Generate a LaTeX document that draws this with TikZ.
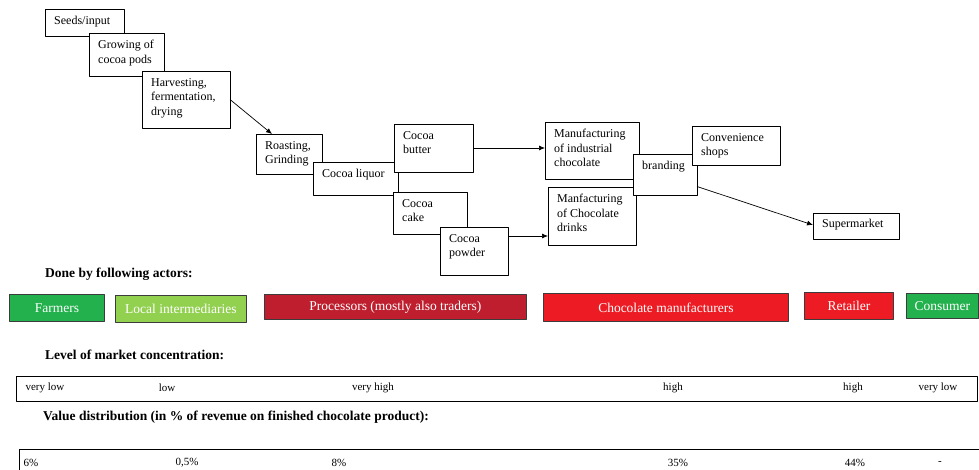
\documentclass[tikz,border=0pt]{standalone}
\usepackage{fontspec}
\setmainfont{Liberation Serif}
\usetikzlibrary{arrows.meta}

\definecolor{farmgreen}{RGB}{34,177,76}
\definecolor{leafgreen}{RGB}{146,208,80}
\definecolor{procred}{RGB}{190,30,45}
\definecolor{chocred}{RGB}{237,28,36}
\definecolor{actorline}{RGB}{60,60,60}

\newcommand\chainfont{\fontsize{12}{14.5}\selectfont}
\newcommand\actorfont{\fontsize{13.5}{15}\selectfont}
\newcommand\rowfont{\fontsize{11}{13}\selectfont}
\newcommand\headfont{\fontsize{13.5}{15}\selectfont\bfseries}

\tikzset{
  stage/.style={draw,line width=0.8pt,fill=white,anchor=north west,inner sep=0pt,outer sep=0pt},
  stagetxt/.style={anchor=north west,align=left,inner xsep=9pt,inner ysep=7pt,font=\chainfont},
  flow/.style={line width=0.7pt,-{Latex[length=6pt,width=5pt]}},
  actor/.style={draw=actorline,line width=0.8pt,text=white,anchor=north west,inner sep=0pt,font=\actorfont},
  rowbox/.style={draw,line width=0.8pt,anchor=north west,inner sep=0pt},
  rowtxt/.style={inner sep=0pt,font=\rowfont},
  heading/.style={anchor=west,inner sep=0pt,font=\headfont}
}

\begin{document}
\begin{tikzpicture}[x=1pt,y=-1pt,line join=round]
  \useasboundingbox (0,0) rectangle (979,470);
  \clip (0,0) rectangle (979,470);
  % chain of stages, later boxes lie over earlier ones
  \node[stage,minimum width=79pt,minimum height=27pt,label={[stagetxt]north west:Seeds/input}] (seeds) at (45,9) {};
  \node[stage,minimum width=75pt,minimum height=43pt,label={[stagetxt]north west:Growing of\\cocoa pods}] (growing) at (89,33) {};
  \node[stage,minimum width=88pt,minimum height=57pt,label={[stagetxt]north west:Harvesting,\\fermentation,\\drying}] (harvest) at (142,71) {};
  \node[stage,minimum width=66pt,minimum height=40pt,label={[stagetxt]north west:Roasting,\\Grinding}] (roast) at (256,134) {};
  \node[stage,minimum width=85pt,minimum height=33pt,label={[stagetxt]north west:Cocoa liquor}] (liquor) at (313,162) {};
  \node[stage,minimum width=79pt,minimum height=48pt,label={[stagetxt]north west:Cocoa\\butter}] (butter) at (394,124) {};
  \node[stage,minimum width=74pt,minimum height=42pt,label={[stagetxt]north west:Cocoa\\cake}] (cake) at (393,192) {};
  \node[stage,minimum width=68pt,minimum height=48pt,label={[stagetxt]north west:Cocoa\\powder}] (powder) at (440,227) {};
  \node[stage,minimum width=94pt,minimum height=57pt,label={[stagetxt]north west:Manufacturing\\of industrial\\chocolate}] (industrial) at (545,122) {};
  \node[stage,minimum width=88pt,minimum height=58pt,label={[stagetxt]north west:Manfacturing\\of Chocolate\\drinks}] (drinks) at (548,187) {};
  \node[stage,minimum width=64pt,minimum height=41pt,label={[stagetxt]north west:branding}] (branding) at (633,154) {};
  \node[stage,minimum width=88pt,minimum height=39pt,label={[stagetxt]north west:Convenience\\shops}] (conv) at (692,126) {};
  \node[stage,minimum width=86pt,minimum height=26pt,label={[stagetxt,inner ysep=6pt]north west:Supermarket}] (super) at (813,213) {};

  \draw[flow] (harvest.east) -- ([xshift=16pt]roast.north west);
  \draw[flow] (butter.east) -- (butter.east -| industrial.west);
  \draw[flow] ([yshift=15pt]powder.east) -- ([yshift=15pt]powder.east -| drinks.west);
  \draw[flow] ([yshift=-12pt]branding.east) -- ([yshift=1pt]super.west);

  % actors
  \node[heading] (actorshead) at (45,274) {Done by following actors:};
  \foreach \nm/\x/\y/\w/\h/\col/\txt in {
      farmers/9/294/95/27/farmgreen/Farmers,
      locals/115/295/131/27/leafgreen/Local intermediaries,
      procs/264/294/262/25/procred/Processors (mostly also traders),
      chocs/543/293/245/28/chocred/Chocolate manufacturers,
      retail/804/292/89/27/chocred/Retailer,
      consumer/906/293/72/25/farmgreen/Consumer} {
    \node[actor,fill=\col,minimum width=\w pt,minimum height=\h pt] (\nm) at (\x,\y) {\txt};
  }

  % concentration
  \node[heading] (levelhead) at (45,355) {Level of market concentration:};
  \node[rowbox,minimum width=961pt,minimum height=25pt] (levelrow) at (16,376) {};
  \foreach \x/\txt [count=\i] in {45/very low,167/low,373/very high,673/high,853/high,938/very low} {
    \node[rowtxt] (level\i) at (\x,388) {\txt};
  }

  % value shares
  \node[heading] (valuehead) at (43,417) {Value distribution (in \% of revenue on finished chocolate product):};
  \node[rowbox,minimum width=990pt,minimum height=40pt] (valuerow) at (19,449) {};
  \foreach \x/\txt [count=\i] in {31/6\%,187/{0,5\%},339/8\%,678/35\%,855/44\%,940/-} {
    \node[rowtxt] (value\i) at (\x,463) {\txt};
  }
\end{tikzpicture}
\end{document}
